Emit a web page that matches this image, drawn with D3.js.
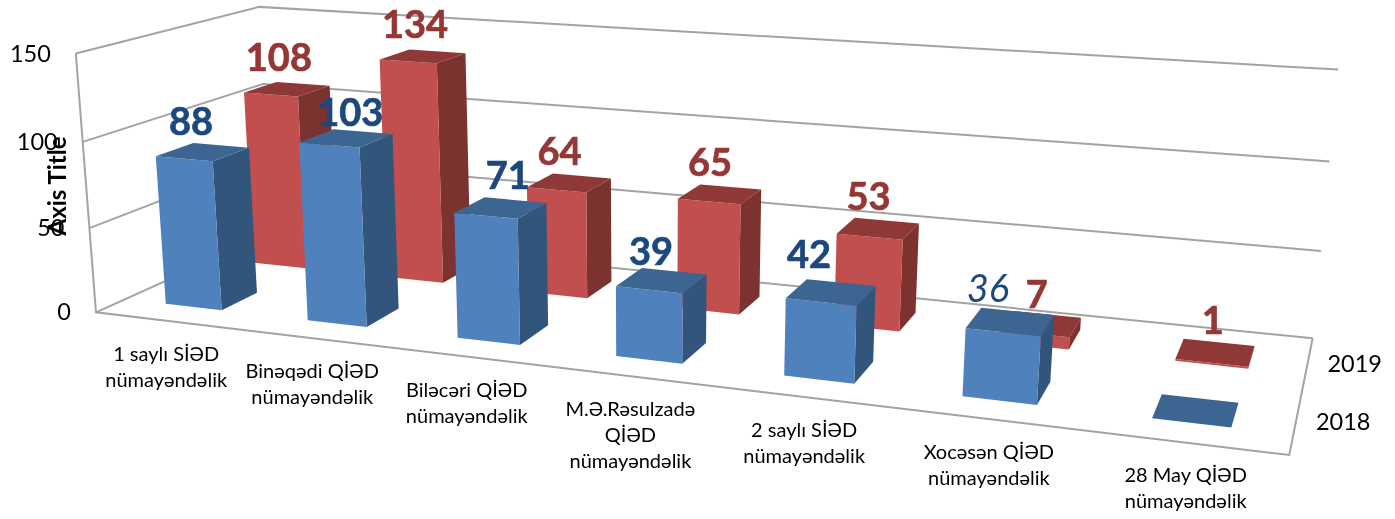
<!DOCTYPE html>
<html>
<head>
<meta charset="utf-8">
<script src="https://cdn.jsdelivr.net/npm/d3@7"></script>
<style>
  html, body { margin: 0; padding: 0; background: #fff; }
  svg { display: block; font-family: Lato, "Open Sans", sans-serif; }
</style>
</head>
<body>
<div id="chart"></div>
<script>
const width = 1395;
const height = 519;

const categories = [
    ['1 saylı SİƏD', 'nümayəndəlik'],
    ['Binəqədi QİƏD', 'nümayəndəlik'],
    ['Biləcəri QİƏD', 'nümayəndəlik'],
    ['M.Ə.Rəsulzadə', 'QİƏD', 'nümayəndəlik'],
    ['2 saylı SİƏD', 'nümayəndəlik'],
    ['Xocəsən QİƏD', 'nümayəndəlik'],
    ['28 May QİƏD', 'nümayəndəlik']
];
const seriesNames = ['2018', '2019'];
const values2018 = [88, 103, 71, 39, 42, 36, 0];
const values2019 = [108, 134, 64, 65, 53, 7, 1];
const labels2018 = ['88', '103', '71', '39', '42', '36', ''];
const labels2019 = ['108', '134', '64', '65', '53', '7', '1'];
const valueTicks = [0, 50, 100, 150];

// the data labels were dragged by hand in the original, these undo the default spot
const nudge2018 = [[7, 0], [21, 5], [22, -3], [2, -1], [-12, -10], [-15, -6], [0, 0]];
const nudge2019 = [[8, 0], [7, 1], [3, -1], [1, -2], [-1, -3], [2, -2], [1, -5]];

// camera: where corners of the unit box (u along categories, v into depth, w up) land on screen
const boxCorners = [
    [0, 0, 0, 97, 312],
    [1, 0, 0, 1289, 456],
    [0, 1, 0, 270, 234],
    [1, 1, 0, 1313, 337],
    [0, 0, 1, 75, 53],
    [0, 1, 1, 260, 7],
    [1, 1, 1, 1338, 70]
];

function solve (A, b) {
    const n = b.length;
    const m = A.map((row, i) => [...row, b[i]]);
    for (let i = 0; i < n; i++) {
        let p = i;
        for (let r = i + 1; r < n; r++) if (Math.abs(m[r][i]) > Math.abs(m[p][i])) p = r;
        [m[i], m[p]] = [m[p], m[i]];
        for (let r = 0; r < n; r++) {
            if (r === i) continue;
            const f = m[r][i] / m[i][i];
            for (let c = i; c <= n; c++) m[r][c] -= f * m[i][c];
        }
    }
    return m.map((row, i) => row[n] / row[i]);
}

// least squares fit of the 11 projection terms
function fitCamera (corners) {
    const rows = [];
    const rhs = [];
    corners.forEach(([u, v, w, x, y]) => {
        rows.push([u, v, w, 1, 0, 0, 0, 0, -x * u, -x * v, -x * w]);
        rhs.push(x);
        rows.push([0, 0, 0, 0, u, v, w, 1, -y * u, -y * v, -y * w]);
        rhs.push(y);
    });
    const AtA = d3.range(11).map(i => d3.range(11).map(j => d3.sum(rows, r => r[i] * r[j])));
    const Atb = d3.range(11).map(i => d3.sum(rows, (r, k) => r[i] * rhs[k]));
    return solve(AtA, Atb);
}

const cam = fitCamera(boxCorners);
const project = (u, v, w) => {
    const d = cam[8] * u + cam[9] * v + cam[10] * w + 1;
    return [
        (cam[0] * u + cam[1] * v + cam[2] * w + cam[3]) / d,
        (cam[4] * u + cam[5] * v + cam[6] * w + cam[7]) / d
    ];
};

const x = d3.scaleBand().domain(d3.range(categories.length)).range([0, 1]).paddingInner(0.6).paddingOuter(0.3).align(0.49);
const z = d3.scaleBand().domain(seriesNames).range([0, 1]).paddingInner(0.6).paddingOuter(0.3);
const y = d3.scaleLinear().domain([0, 150]).range([0, 1]);
const poly = d3.line();

const colors = {
    2018: { front: '#4f81bd', top: '#3d6591', side: '#32547c', label: '#1f497d' },
    2019: { front: '#c0504d', top: '#8e3937', side: '#7b302f', label: '#953735' }
};

const svg = d3.select('#chart').append('svg').attr('width', width).attr('height', height);

const soft = svg.append('defs').append('filter').attr('id', 'soft')
    .attr('filterUnits', 'userSpaceOnUse')
    .attr('x', 0).attr('y', 0)
    .attr('width', width).attr('height', height);
soft.append('feGaussianBlur').attr('stdDeviation', 0.5);

const root = svg.append('g').attr('filter', 'url(#soft)');
root.append('rect').attr('width', width).attr('height', height).attr('fill', '#fff');

// WALLS AND FLOOR
const frame = root.append('g').attr('fill', 'none').attr('stroke', '#a3a3a3').attr('stroke-width', 2);
valueTicks.forEach(t => {
    frame.append('path').attr('d', poly([project(0, 0, y(t)), project(0, 1, y(t)), project(1, 1, y(t))]));
});
frame.append('path').attr('d', poly([project(0, 0, y(150)), project(0, 0, 0), project(1, 0, 0), project(1, 1, 0)]));

// BARS
const bars = root.append('g');
function drawBar (i, name, value) {
    const c = colors[name];
    const u0 = x(i);
    const u1 = u0 + x.bandwidth();
    const v0 = z(name);
    const v1 = v0 + z.bandwidth();
    const w = y(value);
    if (w > 0) {
        bars.append('path').attr('fill', c.side)
            .attr('d', poly([project(u1, v0, 0), project(u1, v1, 0), project(u1, v1, w), project(u1, v0, w)]) + 'Z');
        bars.append('path').attr('fill', c.front)
            .attr('d', poly([project(u0, v0, 0), project(u1, v0, 0), project(u1, v0, w), project(u0, v0, w)]) + 'Z');
    }
    bars.append('path').attr('fill', c.top)
        .attr('d', poly([project(u0, v0, w), project(u1, v0, w), project(u1, v1, w), project(u0, v1, w)]) + 'Z');
}
d3.range(categories.length).reverse().forEach(i => drawBar(i, '2019', values2019[i]));
d3.range(categories.length).reverse().forEach(i => drawBar(i, '2018', values2018[i]));

// VALUE AXIS
root.append('g').attr('font-size', 23.5).attr('fill', '#000').attr('text-anchor', 'end')
    .selectAll('text').data(valueTicks).join('text')
    .attr('x', d => project(0, 0, y(d))[0] - 25)
    .attr('y', d => project(0, 0, y(d))[1] + 8)
    .text(d => d);

root.append('text')
    .attr('transform', 'translate(66,186) rotate(-90)')
    .attr('text-anchor', 'middle')
    .attr('font-size', 24)
    .attr('font-weight', 700)
    .attr('fill', '#000')
    .text('Axis Title');

// CATEGORY LABELS
const catLabels = root.append('g').attr('font-size', 20).attr('fill', '#000').attr('text-anchor', 'middle');
categories.forEach((lines, i) => {
    const [px, py] = project(x(i) + x.bandwidth() / 2, 0, 0);
    lines.forEach((line, k) => {
        catLabels.append('text').attr('x', px + 1).attr('y', py + 40 + k * 26).text(line);
    });
});

// SERIES LABELS
root.append('g').attr('font-size', 23.5).attr('fill', '#000')
    .selectAll('text').data(seriesNames).join('text')
    .attr('x', d => project(1, z(d) + z.bandwidth() / 2, 0)[0] + 20)
    .attr('y', d => project(1, z(d) + z.bandwidth() / 2, 0)[1] + 8)
    .text(d => d);

// VALUE LABELS
const valueLabels = root.append('g').attr('font-size', 38).attr('text-anchor', 'middle');
function drawLabels (name, vals, labels, nudges) {
    vals.forEach((value, i) => {
        const [px, py] = project(x(i) + x.bandwidth() / 2, z(name), y(value));
        const plain = labels[i] === '36';
        valueLabels.append('text')
            .attr('x', px + nudges[i][0])
            .attr('y', py - 24 + nudges[i][1])
            .attr('fill', colors[name].label)
            .attr('stroke', plain ? 'none' : colors[name].label)
            .attr('stroke-width', 0.7)
            .attr('font-weight', plain ? 400 : 700)
            .attr('font-style', plain ? 'italic' : 'normal')
            .text(labels[i]);
    });
}
drawLabels('2019', values2019, labels2019, nudge2019);
drawLabels('2018', values2018, labels2018, nudge2018);
</script>
</body>
</html>
